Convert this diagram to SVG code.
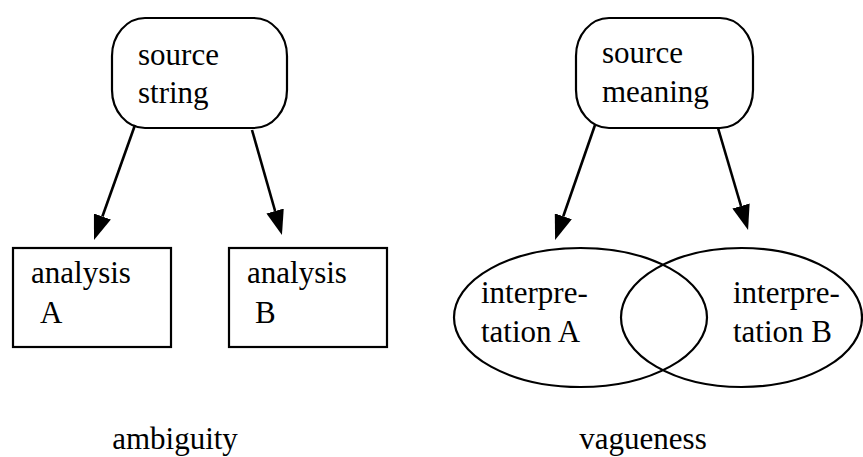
<svg xmlns="http://www.w3.org/2000/svg" width="863" height="457" viewBox="0 0 863 457">
<style>
  .shape { fill: none; stroke: #000; stroke-width: 2.2; }
  .edge { fill: none; stroke: #000; stroke-width: 2.6; }
  .t { font-family: 'Liberation Serif', 'Times New Roman', Times, serif; font-size: 31px; fill: #000; }
</style>
<defs>
  <marker id="arrow" markerUnits="userSpaceOnUse" viewBox="0 0 25 18" refX="0" refY="9" markerWidth="25" markerHeight="18" orient="auto">
    <path d="M0,0 L25,9 L0,18 z" fill="#000"/>
  </marker>
</defs>
<rect width="863" height="457" fill="#fff"/>

<g id="connectors">
  <line class="edge" x1="135" y1="125" x2="102.4" y2="216.5" marker-end="url(#arrow)"/>
  <line class="edge" x1="252" y1="130" x2="275.1" y2="211" marker-end="url(#arrow)"/>
  <line class="edge" x1="595" y1="125" x2="563.3" y2="216.3" marker-end="url(#arrow)"/>
  <line class="edge" x1="718" y1="128" x2="741" y2="206" marker-end="url(#arrow)"/>
</g>

<g id="source-string">
  <rect class="shape" x="112" y="18" width="175" height="110" rx="33" ry="38"/>
  <text class="t" x="138" y="65">source</text>
  <text class="t" x="138" y="103">string</text>
</g>

<g id="analysis-a">
  <rect class="shape" x="13" y="248" width="158" height="99"/>
  <text class="t" x="31" y="283">analysis</text>
  <text class="t" x="40" y="323">A</text>
</g>

<g id="analysis-b">
  <rect class="shape" x="229" y="248" width="158" height="99"/>
  <text class="t" x="247" y="283">analysis</text>
  <text class="t" x="255" y="323">B</text>
</g>

<g id="source-meaning">
  <rect class="shape" x="576" y="18" width="177" height="110" rx="33" ry="38"/>
  <text class="t" x="602" y="63">source</text>
  <text class="t" x="602" y="102">meaning</text>
</g>

<g id="interpretation-a">
  <ellipse class="shape" cx="580.5" cy="317.5" rx="126.5" ry="69.5"/>
  <text class="t" x="481" y="303">interpre-</text>
  <text class="t" x="481" y="342">tation A</text>
</g>

<g id="interpretation-b">
  <ellipse class="shape" cx="741.5" cy="317.5" rx="120.5" ry="69.5"/>
  <text class="t" x="733" y="303">interpre-</text>
  <text class="t" x="733" y="342">tation B</text>
</g>

<g id="labels">
  <text class="t" x="175" y="449" text-anchor="middle">ambiguity</text>
  <text class="t" x="643" y="449" text-anchor="middle">vagueness</text>
</g>
</svg>
